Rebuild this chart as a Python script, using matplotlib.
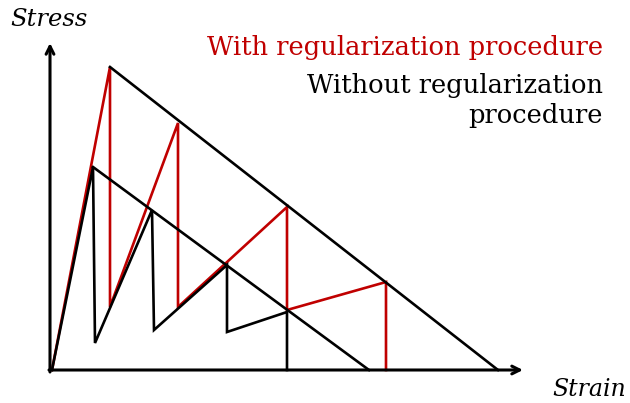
import numpy as np

import matplotlib.pyplot as plt

# stress-strain paths (arbitrary units, origin at 0,0)
with_strain = [0, 58, 58, 126, 126, 235, 235, 334, 334]
with_stress = [0, 303, 63, 247, 63, 163, 60, 88, 0]

without_strain = [0, 41, 43, 100, 102, 175, 175, 235, 235]
without_stress = [0, 203, 27, 160, 40, 105, 38, 58, 0]

# softening envelopes
outer_strain = [58, 446]
outer_stress = [303, 0]
inner_strain = [41, 317]
inner_stress = [203, 0]

labels = ["With regularization procedure", "Without regularization\nprocedure"]

RED = "#c00000"


def main():
    fig = plt.figure(figsize=(6.3, 4.03), dpi=100)
    ax = fig.add_axes([0, 0, 1, 1])
    ax.set_xlim(-52, 578)
    ax.set_ylim(-33, 370)
    ax.axis("off")

    lw = 1.9
    ax.plot(with_strain, with_stress, color=RED, lw=lw, solid_joinstyle="miter")
    ax.plot(without_strain, without_stress, color="black", lw=lw, solid_joinstyle="miter")
    ax.plot(outer_strain, outer_stress, color="black", lw=lw)
    ax.plot(inner_strain, inner_stress, color="black", lw=lw)

    # axes arrows
    ax.annotate("", xy=(471, 0), xytext=(-3, 0),
                arrowprops=dict(arrowstyle="->", lw=2.2, color="black", mutation_scale=14, shrinkA=0, shrinkB=0))
    ax.annotate("", xy=(-2, 327), xytext=(-2, -2),
                arrowprops=dict(arrowstyle="->", lw=2.2, color="black", mutation_scale=14, shrinkA=0, shrinkB=0))

    ax.text(-3, 350, "Stress", fontsize=17.5, family="DejaVu Serif", style="italic", ha="center", va="center")
    ax.text(537, -20, "Strain", fontsize=17, family="DejaVu Serif", style="italic", ha="center", va="center")

    ax.text(551, 322, labels[0], color=RED, fontsize=18.5, family="DejaVu Serif", ha="right", va="center")
    ax.text(551, 269, labels[1], color="black", fontsize=18.5, family="DejaVu Serif", ha="right", va="center",
            linespacing=1.25)

    plt.savefig("out.png", dpi=100)


if __name__ == '__main__':
    main()
